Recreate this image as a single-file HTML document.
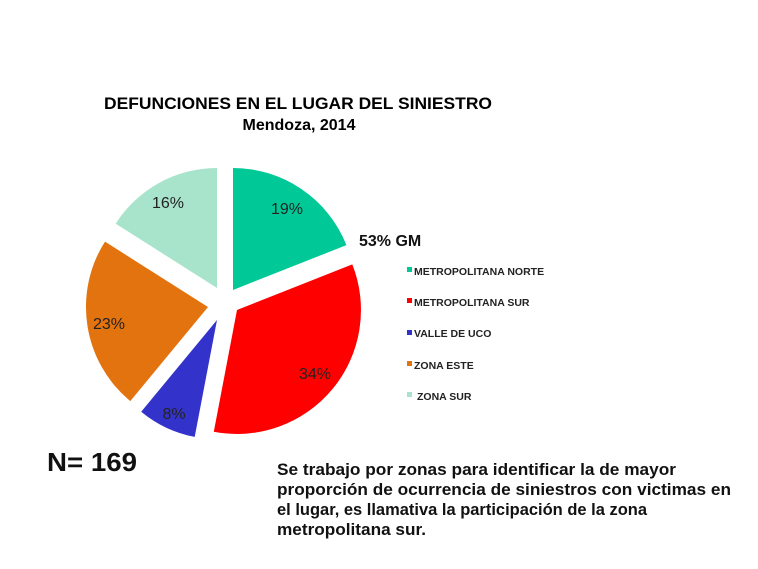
<!DOCTYPE html>
<html><head><meta charset="utf-8"><style>
html,body{margin:0;padding:0;background:#fff;}
svg{display:block;}
text{font-family:"Liberation Sans",Arial,sans-serif;}
</style></head><body>
<svg width="758" height="569" viewBox="0 0 758 569" xmlns="http://www.w3.org/2000/svg">
<rect width="758" height="569" fill="#fff"/>
<text x="298" y="109" font-size="16.5" font-weight="bold" text-anchor="middle" textLength="388" lengthAdjust="spacingAndGlyphs">DEFUNCIONES EN EL LUGAR DEL SINIESTRO</text>
<text x="299" y="130" font-size="16" font-weight="bold" text-anchor="middle">Mendoza, 2014</text>

<path d="M233,290 L233,168 A122,122 0 0 1 346.4,245.1 Z" fill="#00c896"/>
<path d="M237,310 L352.3,264.4 A124,124 0 0 1 213.8,431.8 Z" fill="#fe0000"/>
<path d="M217,320 L194.7,436.9 A119,119 0 0 1 141.2,411.7 Z" fill="#3333cc"/>
<path d="M208,307 L130.3,401.1 A122,122 0 0 1 105,241.6 Z" fill="#e3730f"/>
<path d="M217,288 L115.7,223.7 A120,120 0 0 1 217,168 Z" fill="#a8e4cc"/>

<g font-size="16" fill="#222" text-anchor="middle">
<text x="287" y="214">19%</text>
<text x="315" y="379">34%</text>
<text x="174" y="419">8%</text>
<text x="109" y="329">23%</text>
<text x="168" y="208">16%</text>
</g>

<text x="359" y="246" font-size="16" font-weight="bold" fill="#111">53% GM</text>

<g font-size="10.5" font-weight="bold" fill="#222">
<rect x="407" y="267" width="5" height="5" fill="#00c896"/><text x="414" y="275">METROPOLITANA NORTE</text>
<rect x="407" y="298" width="5" height="5" fill="#fe0000"/><text x="414" y="306">METROPOLITANA SUR</text>
<rect x="407" y="330" width="5" height="5" fill="#3333cc"/><text x="414" y="337">VALLE DE UCO</text>
<rect x="407" y="361" width="5" height="5" fill="#e3730f"/><text x="414" y="369">ZONA ESTE</text>
<rect x="407" y="392" width="5" height="5" fill="#a8e4cc"/><text x="417" y="400">ZONA SUR</text>
</g>

<text x="47" y="471" font-size="26" font-weight="bold" fill="#111" textLength="90" lengthAdjust="spacingAndGlyphs">N= 169</text>

<g font-size="16.5" font-weight="bold" fill="#111">
<text x="277" y="475" textLength="399" lengthAdjust="spacingAndGlyphs">Se trabajo por zonas para identificar la de mayor</text>
<text x="277" y="495" textLength="454" lengthAdjust="spacingAndGlyphs">proporción de ocurrencia de siniestros con victimas en</text>
<text x="277" y="515" textLength="370" lengthAdjust="spacingAndGlyphs">el lugar, es llamativa la participación de la zona</text>
<text x="277" y="535" textLength="149" lengthAdjust="spacingAndGlyphs">metropolitana sur.</text>
</g>
</svg>
</body></html>
